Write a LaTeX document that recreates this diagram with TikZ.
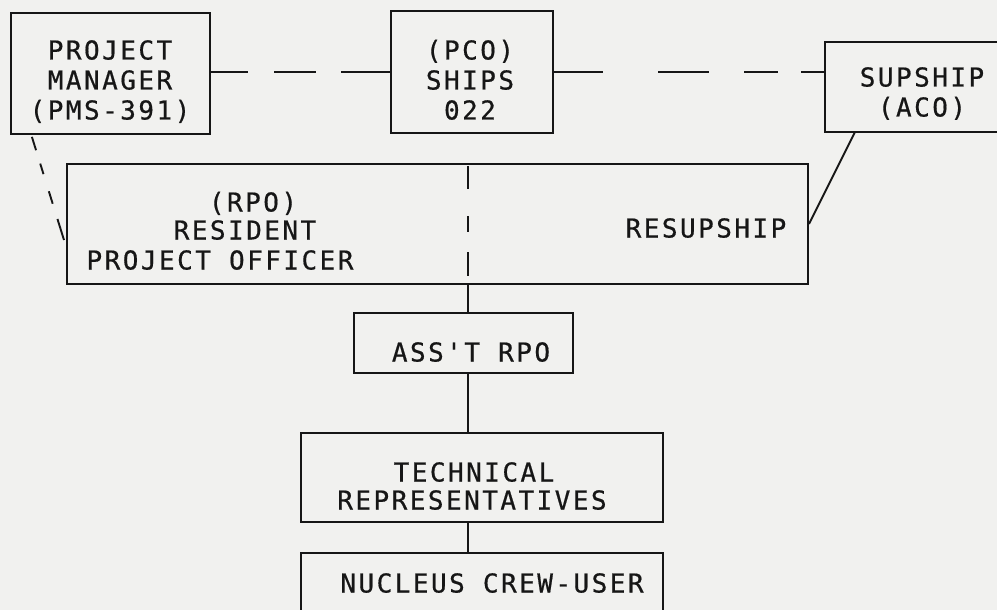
\documentclass[tikz,border=0pt]{standalone}
\usepackage{fontspec}
\usetikzlibrary{calc}
\newfontfamily\typ[LetterSpace=9.5,FakeBold=0.6]{DejaVu Sans Mono}
\definecolor{bg}{RGB}{241,241,239}
\definecolor{ink}{RGB}{22,22,22}
\begin{document}
\begin{tikzpicture}[x=1pt,y=-1pt,
  box/.style={draw=ink, line width=2pt, rectangle, inner sep=0pt},
  txt/.style={font=\typ\fontsize{26}{30}\selectfont, text=ink, inner sep=0pt, anchor=base},
  conn/.style={draw=ink, line width=1.9pt}]
\fill[bg] (0,0) rectangle (997,610);
\useasboundingbox (0,0) rectangle (997,610);
\begin{scope}
\clip (0,0) rectangle (997,610);
% boxes
\node[box, minimum width=199pt, minimum height=121pt] (pm) at (110.5,73.5) {};
\node[box, minimum width=162pt, minimum height=122pt] (pco) at (472,72) {};
\node[box, minimum width=185pt, minimum height=90pt] (sup) at (917.5,87) {};
\node[box, minimum width=741pt, minimum height=120pt] (rpo) at (437.5,224) {};
\node[box, minimum width=219pt, minimum height=60pt] (asst) at (463.5,343) {};
\node[box, minimum width=362pt, minimum height=89pt] (tech) at (482,477.5) {};
\node[box, minimum width=362pt, minimum height=87pt] (nuc) at (482,596.5) {};
% texts
\node[txt] (pm1) at (110,59.5) {PROJECT};
\node[txt] (pm2) at (110,89.5) {MANAGER};
\node[txt] (pm3) at (110,119.5) {(PMS-391)};
\node[txt] (pco1) at (470,59.5) {(PCO)};
\node[txt] (pco2) at (470,89.5) {SHIPS};
\node[txt] (pco3) at (470,119.5) {022};
\node[txt] (sup1) at (922,86.5) {SUPSHIP};
\node[txt] (sup2) at (922,116.5) {(ACO)};
\node[txt] (rpo1) at (253,211.5) {(RPO)};
\node[txt] (rpo2) at (245,239.5) {RESIDENT};
\node[txt] (rpo3) at (220,269.5) {PROJECT OFFICER};
\node[txt] (resup) at (706,237.5) {RESUPSHIP};
\node[txt] (asst1) at (471,361.5) {ASS'T RPO};
\node[txt] (tech1) at (474,481.5) {TECHNICAL};
\node[txt] (tech2) at (472,509.5) {REPRESENTATIVES};
\node[txt] (nuc1) at (492,592.5) {NUCLEUS CREW-USER};
% connectors
\coordinate (vx) at (468,0);
\coordinate (pmfoot) at (31,134);
\coordinate (rpoleft) at (64,240);
\coordinate (supfoot) at (855,132);
\draw[conn, dash pattern=on 37pt off 26pt on 42pt off 25pt on 60pt] (pm.east |- pco.west) -- (pco.west);
\draw[conn, dash pattern=on 49pt off 55pt on 51pt off 35pt on 34pt off 23pt on 30pt] (pco.east) -- (pco.east -| sup.west);
\draw[conn, dash pattern=on 0pt off 3pt on 14pt off 14pt on 11pt off 18pt on 13pt off 16pt on 22pt] (pmfoot) -- (rpoleft);
\draw[conn] (supfoot) -- (rpo.east);
\draw[conn, dash pattern=on 0pt off 3pt on 23pt off 27pt on 16pt off 20pt on 24pt off 10pt] (rpo.north -| vx) -- (rpo.south -| vx);
\draw[conn] (rpo.south -| vx) -- (asst.north -| vx);
\draw[conn] (asst.south -| vx) -- (tech.north -| vx);
\draw[conn] (tech.south -| vx) -- (nuc.north -| vx);
\end{scope}
\end{tikzpicture}
\end{document}
